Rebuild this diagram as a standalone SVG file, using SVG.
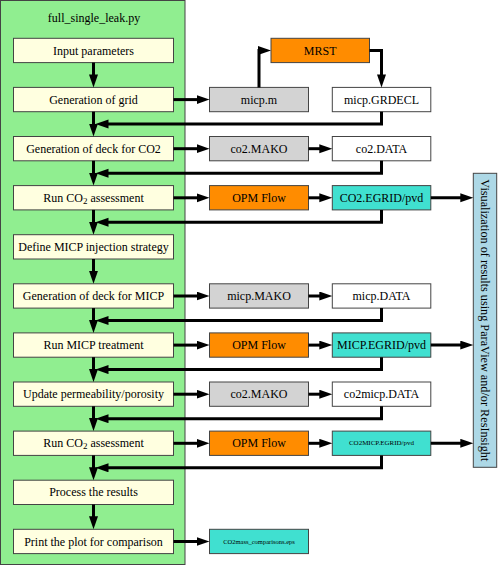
<svg xmlns="http://www.w3.org/2000/svg" width="498" height="566" viewBox="0 0 498 566">
<style>
text{font-family:"Liberation Serif","Times New Roman",serif;font-size:12px;fill:#000;text-anchor:middle;dominant-baseline:central}
.b{stroke:#444;stroke-width:1}
.step{fill:#FFFFE0}
.gray{fill:#D3D3D3}
.org{fill:#FF8C00}
.tq{fill:#40E0D0}
.wh{fill:#FFFFFF}
.e{fill:none;stroke:#000;stroke-width:3;marker-end:url(#ah)}
.sm{font-size:7px}
.xs{font-size:6.5px}
</style>
<defs>
<marker id="ah" markerUnits="userSpaceOnUse" markerWidth="14" markerHeight="10" refX="2" refY="4.5" orient="auto">
<path d="M0,0 L13,4.5 L0,9 z" fill="#000"/>
</marker>
</defs>
<g id="container">
<rect x="0.5" y="0.5" width="184.5" height="564" fill="#90EE90" stroke="#444"/>
<text x="94" y="18">full_single_leak.py</text>
</g>
<g id="n_input"><rect class="b step" x="13.5" y="38.3" width="160" height="24.3"/><text x="93.5" y="50.5">Input parameters</text></g>
<g id="n_grid"><rect class="b step" x="13.5" y="87.4" width="160" height="24.3"/><text x="93.5" y="99.6">Generation of grid</text></g>
<g id="n_deckco2"><rect class="b step" x="13.5" y="136.5" width="160" height="24.3"/><text x="93.5" y="148.7">Generation of deck for CO2</text></g>
<g id="n_runco2"><rect class="b step" x="13.5" y="185.6" width="160" height="24.3"/><text x="93.5" y="197.8">Run CO<tspan font-size="9" dy="3">2</tspan><tspan dy="-3"> assessment</tspan></text></g>
<g id="n_define"><rect class="b step" x="13.5" y="234.7" width="160" height="24.3"/><text x="93.5" y="246.9">Define MICP injection strategy</text></g>
<g id="n_deckmicp"><rect class="b step" x="13.5" y="283.8" width="160" height="24.3"/><text x="93.5" y="296">Generation of deck for MICP</text></g>
<g id="n_runmicp"><rect class="b step" x="13.5" y="332.9" width="160" height="24.3"/><text x="93.5" y="345.1">Run MICP treatment</text></g>
<g id="n_update"><rect class="b step" x="13.5" y="382" width="160" height="24.3"/><text x="93.5" y="394.2">Update permeability/porosity</text></g>
<g id="n_runco2b"><rect class="b step" x="13.5" y="431.1" width="160" height="24.3"/><text x="93.5" y="443.3">Run CO<tspan font-size="9" dy="3">2</tspan><tspan dy="-3"> assessment</tspan></text></g>
<g id="n_process"><rect class="b step" x="13.5" y="480.2" width="160" height="24.3"/><text x="93.5" y="492.4">Process the results</text></g>
<g id="n_print"><rect class="b step" x="13.5" y="529.3" width="160" height="24.3"/><text x="93.5" y="541.5">Print the plot for comparison</text></g>

<g id="n_mrst"><rect class="b org" x="271" y="38.3" width="98.5" height="24.3"/><text x="320.2" y="50.5">MRST</text></g>
<g id="n_micpm"><rect class="b gray" x="209.5" y="87.4" width="99" height="24.3"/><text x="259" y="99.6">micp.m</text></g>
<g id="n_grdecl"><rect class="b wh" x="332.3" y="87.4" width="98.5" height="24.3"/><text x="381.5" y="99.6">micp.GRDECL</text></g>
<g id="n_co2mako"><rect class="b gray" x="209.5" y="136.5" width="99" height="24.3"/><text x="259" y="148.7">co2.MAKO</text></g>
<g id="n_co2data"><rect class="b wh" x="332.3" y="136.5" width="98.5" height="24.3"/><text x="381.5" y="148.7">co2.DATA</text></g>
<g id="n_opm1"><rect class="b org" x="209.5" y="185.6" width="99" height="24.3"/><text x="259" y="197.8">OPM Flow</text></g>
<g id="n_co2egrid"><rect class="b tq" x="332.3" y="185.6" width="98.5" height="24.3"/><text x="381.5" y="197.8">CO2.EGRID/pvd</text></g>
<g id="n_micpmako"><rect class="b gray" x="209.5" y="283.8" width="99" height="24.3"/><text x="259" y="296">micp.MAKO</text></g>
<g id="n_micpdata"><rect class="b wh" x="332.3" y="283.8" width="98.5" height="24.3"/><text x="381.5" y="296">micp.DATA</text></g>
<g id="n_opm2"><rect class="b org" x="209.5" y="332.9" width="99" height="24.3"/><text x="259" y="345.1">OPM Flow</text></g>
<g id="n_micpegrid"><rect class="b tq" x="332.3" y="332.9" width="98.5" height="24.3"/><text x="381.5" y="345.1">MICP.EGRID/pvd</text></g>
<g id="n_co2mako2"><rect class="b gray" x="209.5" y="382" width="99" height="24.3"/><text x="259" y="394.2">co2.MAKO</text></g>
<g id="n_co2micpdata"><rect class="b wh" x="332.3" y="382" width="98.5" height="24.3"/><text x="381.5" y="394.2">co2micp.DATA</text></g>
<g id="n_opm3"><rect class="b org" x="209.5" y="431.1" width="99" height="24.3"/><text x="259" y="443.3">OPM Flow</text></g>
<g id="n_co2micpegrid"><rect class="b tq" x="332.3" y="431.1" width="98.5" height="24.3"/><text class="sm" x="381.5" y="443.3">CO2MICP.EGRID/pvd</text></g>
<g id="n_eps"><rect class="b tq" x="209.5" y="529.3" width="99" height="24.3"/><text class="xs" x="259" y="541.5">CO2mass_comparisons.eps</text></g>
<g id="n_vis"><rect class="b" fill="#ADD8E6" x="473.3" y="173.3" width="23.4" height="294"/><text transform="translate(485,320.3) rotate(90)" x="0" y="0" textLength="282" lengthAdjust="spacingAndGlyphs">Visualization of results using ParaView and/or ResInsight</text></g>

<g id="connectors">
<path class="e" d="M93.5,62.6 V76.4"/>
<path class="e" d="M93.5,111.7 V125.5"/>
<path class="e" d="M93.5,160.8 V174.6"/>
<path class="e" d="M93.5,209.9 V223.7"/>
<path class="e" d="M93.5,259 V272.8"/>
<path class="e" d="M93.5,308.1 V321.9"/>
<path class="e" d="M93.5,357.2 V371"/>
<path class="e" d="M93.5,406.3 V420.1"/>
<path class="e" d="M93.5,455.4 V469.2"/>
<path class="e" d="M93.5,504.5 V518.3"/>

<path class="e" d="M173.5,99.6 H198.5"/>
<path class="e" d="M173.5,148.7 H198.5"/>
<path class="e" d="M173.5,197.8 H198.5"/>
<path class="e" d="M173.5,296 H198.5"/>
<path class="e" d="M173.5,345.1 H198.5"/>
<path class="e" d="M173.5,394.2 H198.5"/>
<path class="e" d="M173.5,443.3 H198.5"/>
<path class="e" d="M173.5,541.5 H198.5"/>

<path class="e" d="M308.5,148.7 H321.3"/>
<path class="e" d="M308.5,197.8 H321.3"/>
<path class="e" d="M308.5,296 H321.3"/>
<path class="e" d="M308.5,345.1 H321.3"/>
<path class="e" d="M308.5,394.2 H321.3"/>
<path class="e" d="M308.5,443.3 H321.3"/>

<path class="e" d="M430.8,197.8 H462.3"/>
<path class="e" d="M430.8,345.1 H462.3"/>
<path class="e" d="M430.8,443.3 H462.3"/>

<path class="e" d="M259,87.4 V50.5 H260"/>
<path class="e" d="M369.5,50.5 H381.5 V76.4"/>

<path class="e" d="M381.5,111.7 V124.1 H106.5"/>
<path class="e" d="M381.5,160.8 V173.2 H106.5"/>
<path class="e" d="M381.5,209.9 V222.3 H106.5"/>
<path class="e" d="M381.5,308.1 V320.5 H106.5"/>
<path class="e" d="M381.5,357.2 V369.6 H106.5"/>
<path class="e" d="M381.5,406.3 V418.7 H106.5"/>
<path class="e" d="M381.5,455.4 V467.8 H106.5"/>
</g>
</svg>
